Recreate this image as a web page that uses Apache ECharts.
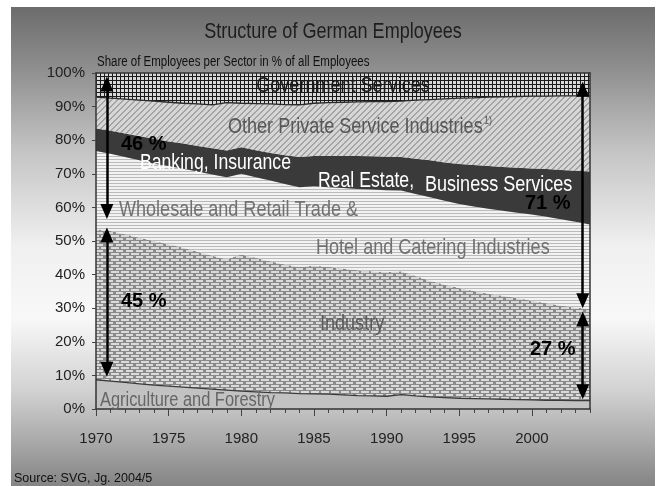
<!DOCTYPE html>
<html>
<head>
<meta charset="utf-8">
<title>Structure of German Employees</title>
<script src="https://cdn.jsdelivr.net/npm/echarts@6/dist/echarts.min.js"></script>
<style>
  html, body { margin: 0; padding: 0; background: #ffffff; }
  #chart { width: 658px; height: 486px; }
</style>
</head>
<body>
<div id="chart"></div>
<script>
// Years on the x axis
const years = ['1970', '1971', '1972', '1973', '1974', '1975', '1976', '1977', '1978', '1979',
               '1980', '1981', '1982', '1983', '1984', '1985', '1986', '1987', '1988', '1989',
               '1990', '1991', '1992', '1993', '1994', '1995', '1996', '1997', '1998', '1999',
               '2000', '2001', '2002', '2003', '2004'];

// Share of employees per sector, % of all employees (stacked bottom to top)
const agriculture = [8.7, 8.3, 7.9, 7.5, 7.1, 6.8, 6.5, 6.2, 5.9, 5.6,
                     5.3, 5.1, 4.9, 4.8, 4.6, 4.5, 4.4, 4.2, 4.0, 3.9,
                     3.8, 4.3, 3.9, 3.6, 3.4, 3.2, 3.1, 3.0, 2.9, 2.8,
                     2.7, 2.6, 2.6, 2.5, 2.5];
const industry = [44.8, 44.7, 44.1, 43.5, 42.9, 42.2, 41.5, 40.6, 39.7, 39.0,
                  40.7, 39.9, 39.1, 38.2, 37.7, 38.1, 37.9, 37.6, 37.3, 37.1,
                  37.0, 36.7, 35.7, 34.6, 33.6, 32.8, 32.0, 31.3, 30.8, 30.2,
                  29.5, 28.9, 28.2, 27.7, 27.3];
const tradeHotel = [23.3, 23.0, 23.0, 23.0, 23.0, 23.3, 23.5, 23.9, 24.2, 24.4,
                    24.0, 24.0, 24.0, 24.0, 23.7, 23.7, 23.7, 24.0, 24.2, 24.3,
                    24.3, 24.0, 24.4, 24.8, 25.0, 25.0, 25.2, 25.3, 25.3, 25.4,
                    25.7, 25.7, 25.7, 25.5, 25.1];
const financeBusiness = [6.7, 6.8, 7.0, 7.2, 7.4, 7.3, 7.5, 7.6, 7.8, 7.9,
                         7.9, 8.0, 8.2, 8.5, 9.0, 9.0, 9.3, 9.5, 9.8, 9.9,
                         10.0, 10.0, 10.5, 11.0, 11.4, 11.9, 12.3, 12.7, 13.0, 13.4,
                         13.7, 14.2, 14.6, 15.2, 15.8];
const otherServices = [9.3, 9.7, 10.2, 10.7, 11.2, 11.7, 12.0, 12.5, 12.9, 14.3,
                       13.1, 13.9, 14.6, 15.1, 15.5, 15.7, 15.9, 16.0, 16.1, 16.3,
                       16.4, 16.6, 17.4, 18.1, 18.9, 19.6, 20.0, 20.5, 20.9, 21.2,
                       21.5, 21.7, 22.1, 22.3, 22.5];
const government = [7.2, 7.5, 7.8, 8.1, 8.4, 8.7, 9.0, 9.2, 9.5, 8.8,
                    9.0, 9.1, 9.2, 9.4, 9.5, 9.0, 8.8, 8.7, 8.6, 8.5,
                    8.5, 8.4, 8.1, 7.9, 7.7, 7.5, 7.4, 7.2, 7.1, 7.0,
                    6.9, 6.9, 6.8, 6.8, 6.8];

// Double-headed arrows: [year, from %, to %] (line ends; heads drawn beyond)
const arrowSpans = [
  [1970.75, 96.7, 58.8],
  [1970.75, 51.8, 11.8],
  [2003.5, 95.2, 32.2],
  [2003.5, 26.8, 5.1]
];

const FONT = '"Liberation Sans", Arial, sans-serif';
const NARROW_SCALE = 0.82;   // horizontally condensed lettering

// Small canvas tiles used as fill patterns
function tile(w, h, paint) {
  const c = document.createElement('canvas');
  c.width = w; c.height = h;
  const g = c.getContext('2d');
  paint(g);
  return { image: c, repeat: 'repeat' };
}
const gridFill = tile(4, 4, g => {
  g.fillStyle = '#d8d8d8'; g.fillRect(0, 0, 4, 4);
  g.fillStyle = '#1a1a1a'; g.fillRect(0, 0, 4, 1); g.fillRect(0, 0, 1, 4);
});
const hatchFill = tile(6, 6, g => {
  g.fillStyle = '#d6d6d6'; g.fillRect(0, 0, 6, 6);
  g.fillStyle = '#a4a4a4';
  for (let x = 0; x < 6; x++) for (let y = 0; y < 6; y++) if ((x + y) % 6 < 2) g.fillRect(x, y, 1, 1);
});
const stripeFill = tile(4, 3, g => {
  g.fillStyle = '#f2f2f2'; g.fillRect(0, 0, 4, 3);
  g.fillStyle = '#bababa'; g.fillRect(0, 0, 4, 1);
});
const brickFill = tile(10, 6, g => {
  g.fillStyle = '#8a8a8a'; g.fillRect(0, 0, 10, 6);
  g.fillStyle = '#dadada';
  g.fillRect(1, 1, 8, 2); g.fillRect(6, 4, 4, 2); g.fillRect(0, 4, 3, 2);
});

function areaSeries(name, values, fill, edge) {
  return {
    name, type: 'line', stack: 'share', data: values,
    symbol: 'none', silent: true,
    lineStyle: edge ? { color: edge, width: 1.3 } : { width: 0 },
    areaStyle: { color: fill, opacity: 1 }
  };
}

function txt(text, x, y, size, fill, align, weight, condensed) {
  return {
    type: 'text', x, y, z: 100, silent: true,
    scaleX: condensed === false ? 1 : NARROW_SCALE,
    style: {
      text, fill,
      font: (weight || 'normal') + ' ' + size + 'px ' + FONT,
      textAlign: align || 'left', textVerticalAlign: 'middle'
    }
  };
}

const chart = echarts.init(document.getElementById('chart'), null, { renderer: 'canvas' });

const option = {
  animation: false,
  grid: { left: 96, right: 68, top: 73, bottom: 77, containLabel: false },
  xAxis: [
    {
      type: 'category', data: years, boundaryGap: false, position: 'bottom', z: 5,
      axisLine: { show: true, lineStyle: { color: '#333', width: 1.5 } },
      axisTick: { show: true, interval: 0, length: 4, lineStyle: { color: '#444' } },
      axisLabel: { interval: 4, margin: 22, fontFamily: FONT, fontSize: 15, color: '#222' },
      splitLine: { show: false }
    },
    {
      type: 'category', data: years, boundaryGap: false, position: 'bottom', z: 5,
      axisLine: { show: false },
      axisTick: { show: true, interval: (i) => i % 5 === 0, length: 7, lineStyle: { color: '#444' } },
      axisLabel: { show: false },
      splitLine: { show: false }
    },
    {
      type: 'value', min: 1970, max: 2004, position: 'top', z: 5,
      axisLine: { show: true, lineStyle: { color: '#333', width: 1.5 } },
      axisTick: { show: false }, axisLabel: { show: false }, splitLine: { show: false }
    }
  ],
  yAxis: [
    {
      type: 'value', min: 0, max: 100, interval: 10, position: 'left', z: 5,
      axisLine: { show: true, lineStyle: { color: '#333', width: 1.5 } },
      axisTick: { show: true, length: 4, lineStyle: { color: '#444' } },
      axisLabel: { formatter: '{value}%', margin: 11, fontFamily: FONT, fontSize: 15, color: '#222' },
      splitLine: { show: false }
    },
    {
      type: 'value', min: 0, max: 100, position: 'right', z: 5,
      axisLine: { show: true, lineStyle: { color: '#333', width: 1.5 } },
      axisTick: { show: false }, axisLabel: { show: false }, splitLine: { show: false }
    }
  ],
  series: [
    areaSeries('Agriculture and Forestry', agriculture, '#c2c2c2', '#3a3a3a'),
    areaSeries('Industry', industry, brickFill, null),
    areaSeries('Wholesale and Retail Trade & Hotel and Catering Industries', tradeHotel, stripeFill, null),
    areaSeries('Banking, Insurance, Real Estate, Business Services', financeBusiness, '#3a3a3a', null),
    areaSeries('Other Private Service Industries', otherServices, hatchFill, '#2a2a2a'),
    areaSeries('Government Services', government, gridFill, null),
    {
      name: 'arrows', type: 'line', xAxisIndex: 2, yAxisIndex: 0, data: [], silent: true, z: 6,
      markLine: {
        silent: true, animation: false,
        symbol: ['triangle', 'triangle'], symbolSize: [13, 15],
        lineStyle: { color: '#000', width: 2.5, type: 'solid' },
        label: { show: false },
        data: arrowSpans.map(a => [{ coord: [a[0], a[1]] }, { coord: [a[0], a[2]] }])
      }
    }
  ],
  graphic: [
    {
      type: 'rect', z: -10, silent: true,
      shape: { x: 11, y: 7, width: 644, height: 479 },
      style: {
        fill: new echarts.graphic.LinearGradient(0, 0, 0, 1, [
          { offset: 0, color: '#6c6c6c' },
          { offset: 0.12, color: '#8c8c8c' },
          { offset: 0.3, color: '#c4c4c4' },
          { offset: 0.5, color: '#f0f0f0' },
          { offset: 0.65, color: '#f8f8f8' },
          { offset: 0.8, color: '#d2d2d2' },
          { offset: 0.9, color: '#acacac' },
          { offset: 1, color: '#848484' }
        ])
      }
    },
    txt('Structure of German Employees', 333, 32, 22, '#1e1e1e', 'center'),
    txt('Share of Employees per Sector in % of all Employees', 97, 62, 14, '#111', 'left'),
    txt('Government Services', 343, 86, 22, '#1a1a1a', 'center'),
    txt('Other Private Service Industries', 228, 127, 22, '#575757', 'left'),
    txt('1)', 484, 121, 11, '#575757', 'left'),
    txt('46 %', 121, 144, 20, '#000', 'left', 'bold', false),
    txt('Banking, Insurance', 140, 163, 21.5, '#ffffff', 'left'),
    txt('Real Estate,', 318, 181, 21.5, '#ffffff', 'left'),
    txt('Business Services', 425, 185, 22, '#ffffff', 'left'),
    txt('71 %', 525, 203, 20, '#000', 'left', 'bold', false),
    txt('Wholesale and Retail Trade &', 119, 210, 22, '#707070', 'left'),
    txt('Hotel and Catering Industries', 316, 248, 22, '#707070', 'left'),
    txt('45 %', 121, 301, 20, '#000', 'left', 'bold', false),
    txt('Industry', 320, 324, 22, '#5a5a5a', 'left'),
    txt('27 %', 530, 349, 20, '#000', 'left', 'bold', false),
    txt('Agriculture and Forestry', 100, 400, 20, '#666666', 'left'),
    txt('Source: SVG, Jg. 2004/5', 14, 479, 12.5, '#111', 'left', 'normal', false)
  ]
};

chart.setOption(option);
</script>
</body>
</html>
